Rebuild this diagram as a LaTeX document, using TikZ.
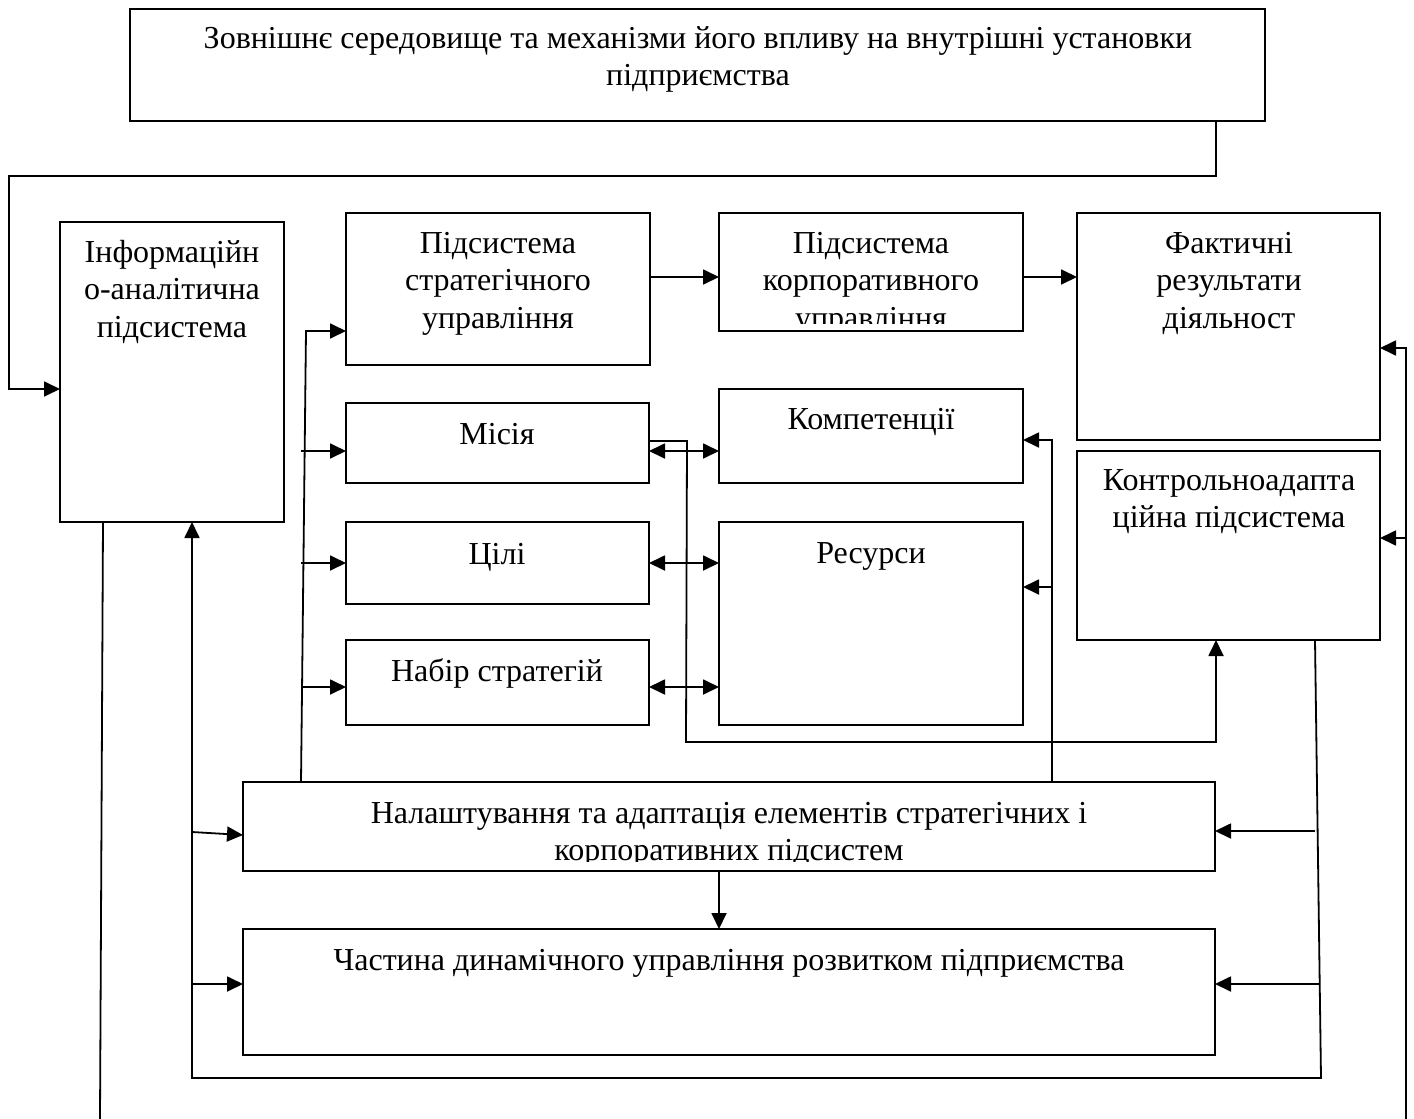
\documentclass[tikz,border=0pt]{standalone}
\usepackage{fontspec}
\setmainfont{Liberation Serif}
\usetikzlibrary{arrows.meta}
\newcommand{\fstrut}{\rule{0pt}{30pt}}
\newcommand{\bx}[5]{\node[boxstyle, minimum width={#4-#2}, minimum height={#5-#3}] (#1) at ({(#2+#4)/2},{(#3+#5)/2}) {};}
\begin{document}
\begin{tikzpicture}[x=1pt, y=-1pt,
  boxstyle/.style={draw, line width=1.8pt, inner sep=0pt, outer sep=0pt},
  txt/.style={anchor=north, align=center, inner sep=0pt, font=\fontsize{32}{37.5}\selectfont},
  conn/.style={line width=1.8pt},
  arr/.style={line width=1.8pt, -{Triangle[length=16pt,width=15pt]}},
  barr/.style={line width=1.8pt, {Triangle[length=16pt,width=15pt]}-{Triangle[length=16pt,width=15pt]}}]
\useasboundingbox (0,0) rectangle (1414,1119);
\fill[white] (0,0) rectangle (1414,1119);
% boxes
\bx{top}{130}{9}{1265}{121}
\bx{info}{60}{222}{284}{522}
\bx{strat}{346}{213}{650}{365}
\bx{corp}{719}{213}{1023}{331}
\bx{fact}{1077}{213}{1380}{440}
\bx{misia}{346}{403}{649}{483}
\bx{tsili}{346}{522}{649}{604}
\bx{nabir}{346}{640}{649}{725}
\bx{comp}{719}{389}{1023}{483}
\bx{res}{719}{522}{1023}{725}
\bx{ctrl}{1077}{451}{1380}{640}
\bx{nast}{243}{782}{1215}{871}
\bx{chast}{243}{929}{1215}{1055}
% texts
\node[txt] (top-t) at (698,{48-30}) {\fstrut Зовнішнє середовище та механізми його впливу на внутрішні установки\\підприємства};
\node[txt] (info-t) at (172,{262-30}) {\fstrut Інформаційн\\о-аналітична\\підсистема};
\node[txt] (strat-t) at (498,{253-30}) {\fstrut Підсистема\\стратегічного\\управління};
\begin{scope}
\clip (corp.north west) rectangle ([yshift=8pt]corp.south east);
\node[txt] (corp-t) at (871,{253-30}) {\fstrut Підсистема\\корпоративного\\управління};
\end{scope}
\node[txt] (fact-t) at (1229,{253-30}) {\fstrut Фактичні\\результати\\діяльност};
\node[txt] (ctrl-t) at (1229,{490-30}) {\fstrut Контрольноадапта\\ційна підсистема};
\node[txt] (misia-t) at (497,{444-30}) {\fstrut Місія};
\node[txt] (tsili-t) at (497,{564-30}) {\fstrut Цілі};
\node[txt] (nabir-t) at (497,{681-30}) {\fstrut Набір стратегій};
\node[txt] (comp-t) at (871,{429-30}) {\fstrut Компетенції};
\node[txt] (res-t) at (871,{563-30}) {\fstrut Ресурси};
\begin{scope}
\clip (nast.north west) rectangle ([yshift=10pt]nast.south east);
\node[txt] (nast-t) at (729,{823-30}) {\fstrut Налаштування та адаптація елементів стратегічних і\\корпоративних підсистем};
\end{scope}
\node[txt] (chast-t) at (729,{970-30}) {\fstrut Частина динамічного управління розвитком підприємства};
% connectors
\draw[arr] (top.south -| 1216,0) -- (1216,176) -- (9,176) -- (9,389) -- (info.west |- 0,389);
\draw[arr] (nast.north -| 301,0) -- (306,331) -- (strat.west |- 0,331);
\draw[arr] (301,451) -- (misia.west |- 0,451);
\draw[arr] (301,563) -- (tsili.west |- 0,563);
\draw[arr] (301,687) -- (nabir.west |- 0,687);
\draw[arr] (strat.east |- 0,277) -- (corp.west |- 0,277);
\draw[arr] (corp.east |- 0,277) -- (fact.west |- 0,277);
\draw[barr] (misia.east |- 0,451) -- (comp.west |- 0,451);
\draw[barr] (tsili.east |- 0,563) -- (res.west |- 0,563);
\draw[barr] (nabir.east |- 0,687) -- (res.west |- 0,687);
\draw[arr] (misia.east |- 0,441) -- (687,441) -- (686,742) -- (1216,742) -- (ctrl.south -| 1216,0);
\draw[arr] (nast.north -| 1052,0) -- (1052,440) -- (comp.east |- 0,440);
\draw[arr] (1052,587) -- (res.east |- 0,587);
\draw[arr] (ctrl.south -| 1315,0) -- (1321,1078) -- (192,1078) -- (info.south -| 192,0);
\draw[arr] (1315,831) -- (nast.east |- 0,831);
\draw[arr] (1320,984) -- (chast.east |- 0,984);
\draw[arr] (192,832) -- (nast.west |- 0,835);
\draw[arr] (192,984) -- (chast.west |- 0,984);
\draw[arr] (nast.south -| 719,0) -- (chast.north -| 719,0);
\draw[conn] (info.south -| 103,0) -- (100,1119);
\draw[arr] (1406,1119) -- (1406,348) -- (fact.east |- 0,348);
\draw[arr] (1406,538) -- (ctrl.east |- 0,538);
\end{tikzpicture}
\end{document}
